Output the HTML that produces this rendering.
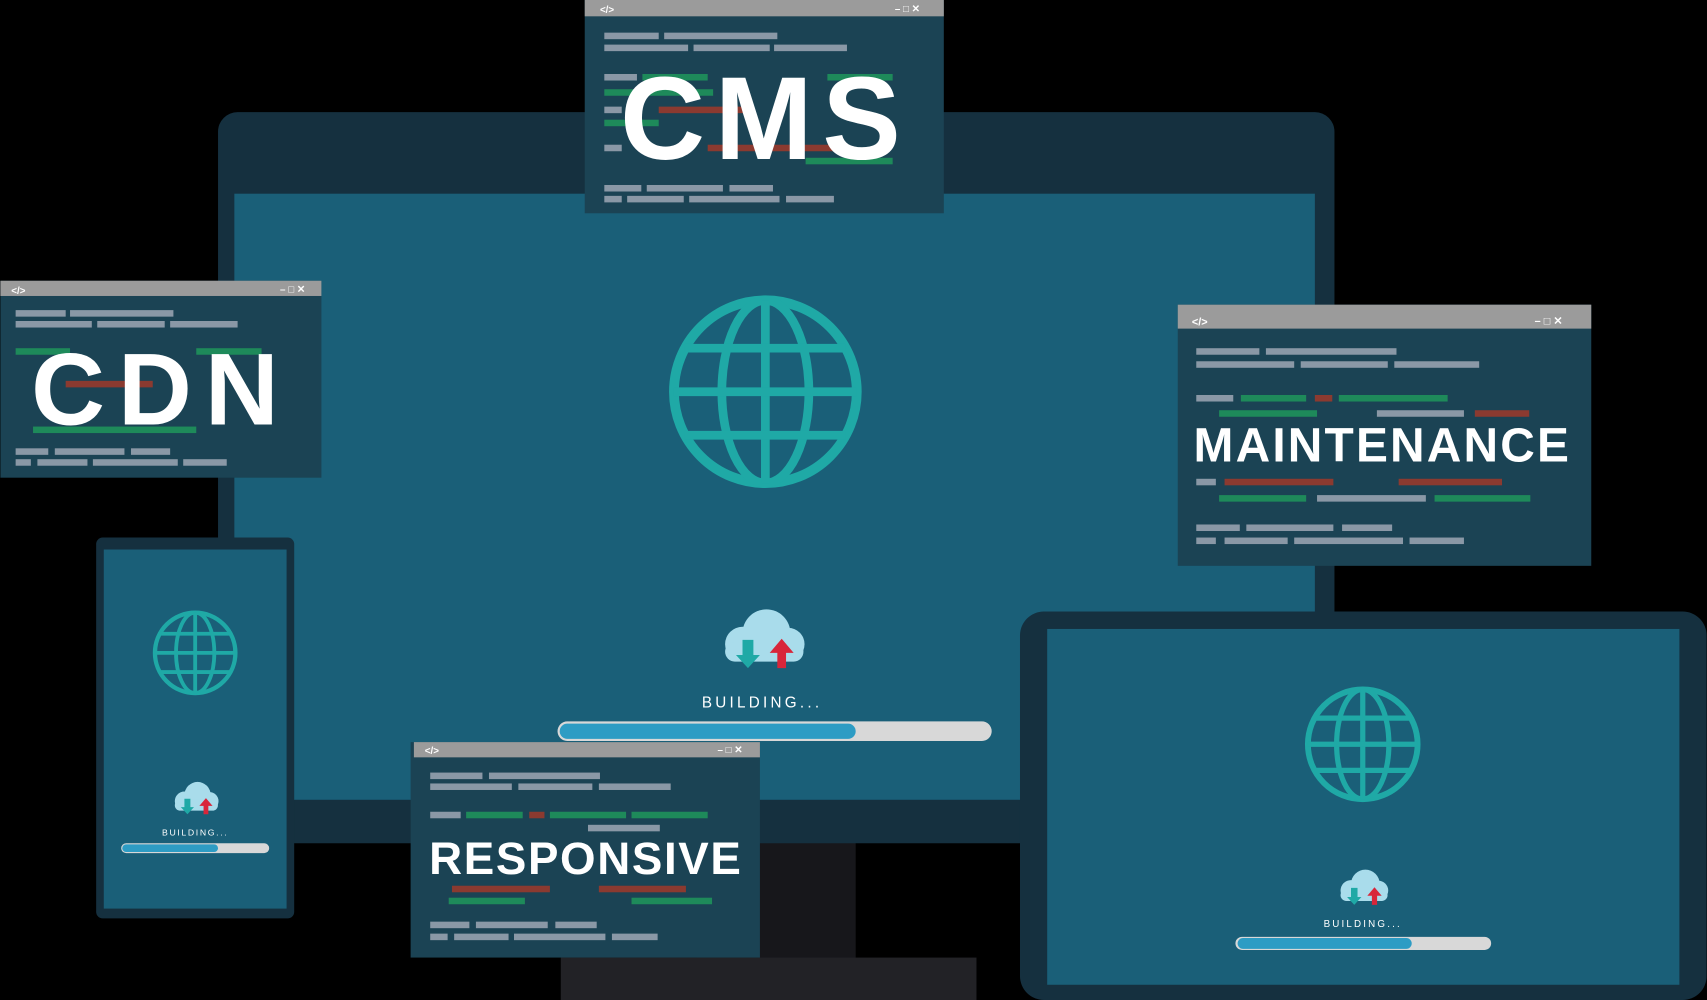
<!DOCTYPE html>
<html><head><meta charset="utf-8"><style>
html,body{margin:0;padding:0;background:#000;}
svg{display:block}
text{font-family:"Liberation Sans",sans-serif;font-weight:bold;fill:#fff}
</style></head><body>
<svg width="1707" height="1000" viewBox="0 0 1568 919" xmlns="http://www.w3.org/2000/svg">
<defs>
<g id="globe" fill="none" stroke="#1fa9a6">
<circle cx="0" cy="0" r="84" stroke-width="9"/>
<ellipse cx="0" cy="0" rx="40" ry="84" stroke-width="8"/>
<line x1="0" y1="-84" x2="0" y2="84" stroke-width="8"/>
<line x1="-84" y1="0" x2="84" y2="0" stroke-width="8"/>
<path d="M-74,-40 H74 M-74,40 H74" stroke-width="8"/>
</g>
<g id="cloud">
<circle cx="-18" cy="4" r="16" fill="#a9dceb"/>
<circle cx="4" cy="-6" r="22" fill="#a9dceb"/>
<circle cx="24" cy="4" r="15" fill="#a9dceb"/>
<rect x="-34" y="2" width="72" height="18" rx="9" fill="#a9dceb"/>
<path d="M-18,0 h10 v14 h6 l-11,12 l-11,-12 h6z" fill="#1fa9a6"/>
<path d="M14,26 v-14 h-7 l11,-13 l11,13 h-7 v14z" fill="#d8263a"/>
</g>
</defs>
<rect width="1568" height="919" fill="#000"/>
<!-- monitor -->
<rect x="640" y="760" width="146" height="125" fill="#17171b"/>
<rect x="515" y="880" width="382" height="39" fill="#222226"/>
<rect x="200" y="103" width="1026" height="672" rx="18" fill="#15303f"/>
<rect x="215" y="178" width="993" height="557" fill="#1a5f78"/>
<use href="#globe" x="703" y="360"/>
<use href="#cloud" x="700" y="588"/>
<text x="700" y="650" text-anchor="middle" font-size="14" style="font-weight:normal;letter-spacing:3px" fill="#d8e6ec">BUILDING...</text>
<rect x="512" y="663" width="399" height="18" rx="9" fill="#d8d8d8"/>
<rect x="514" y="665" width="272" height="14" rx="7" fill="#2d9cc4"/>

<!-- phone -->
<rect x="88" y="494" width="182" height="350" rx="6" fill="#15303f"/>
<rect x="95" y="505" width="168" height="330" fill="#1a5f78"/>
<use href="#globe" transform="translate(179,600) scale(0.44)"/>
<use href="#cloud" transform="translate(179,734) scale(0.55)"/>
<text x="179" y="768" text-anchor="middle" font-size="8" style="font-weight:normal;letter-spacing:1.5px" fill="#d8e6ec">BUILDING...</text>
<rect x="111" y="775" width="136" height="9" rx="4.5" fill="#d8d8d8"/>
<rect x="112" y="776" width="88" height="7" rx="3.5" fill="#2d9cc4"/>

<!-- tablet -->
<rect x="937" y="562" width="631" height="357" rx="22" fill="#15303f"/>
<rect x="962" y="578" width="581" height="327" fill="#1a5f78"/>
<use href="#globe" transform="translate(1252,684) scale(0.6)"/>
<use href="#cloud" transform="translate(1252,816) scale(0.6)"/>
<text x="1252" y="852" text-anchor="middle" font-size="9" style="font-weight:normal;letter-spacing:2px" fill="#d8e6ec">BUILDING...</text>
<rect x="1135" y="861" width="235" height="12" rx="6" fill="#d8d8d8"/>
<rect x="1137" y="862" width="160" height="10" rx="5" fill="#2d9cc4"/>

<!-- CMS window -->
<g>
<rect x="537" y="0" width="330" height="196" fill="#1b4354"/>
<rect x="537" y="0" width="330" height="15" fill="#9b9b9b"/>
<text x="551" y="12" font-size="9" fill="#eee">&lt;/&gt;</text>
<text x="822" y="11" font-size="9" fill="#eee">–  □  ✕</text>
<g fill="#8a98a6">
<rect x="555" y="30" width="50" height="6"/><rect x="610" y="30" width="104" height="6"/>
<rect x="555" y="41" width="77" height="6"/><rect x="637" y="41" width="70" height="6"/><rect x="711" y="41" width="67" height="6"/>
<rect x="555" y="170" width="34" height="6"/><rect x="594" y="170" width="70" height="6"/><rect x="670" y="170" width="40" height="6"/>
<rect x="555" y="180" width="16" height="6"/><rect x="576" y="180" width="52" height="6"/><rect x="633" y="180" width="83" height="6"/><rect x="722" y="180" width="44" height="6"/>
<rect x="555" y="68" width="30" height="6"/><rect x="555" y="98" width="16" height="6"/><rect x="555" y="133" width="16" height="6"/>
</g>
<g fill="#1e8a5a"><rect x="590" y="68" width="60" height="6"/><rect x="760" y="68" width="60" height="6"/><rect x="555" y="82" width="100" height="6"/><rect x="555" y="110" width="50" height="6"/><rect x="740" y="145" width="80" height="6"/></g>
<g fill="#8b3a30"><rect x="605" y="98" width="80" height="6"/><rect x="650" y="133" width="120" height="6"/></g>
<text x="703" y="146" text-anchor="middle" font-size="108" style="letter-spacing:9px">CMS</text>
</g>

<!-- CDN window -->
<g>
<rect x="0" y="258" width="295" height="181" fill="#1b4354"/>
<rect x="0" y="258" width="295" height="14" fill="#9b9b9b"/>
<text x="10" y="270" font-size="9" fill="#eee">&lt;/&gt;</text>
<text x="257" y="269" font-size="9" fill="#eee">–  □  ✕</text>
<g fill="#8a98a6">
<rect x="14" y="285" width="46" height="6"/><rect x="64" y="285" width="95" height="6"/>
<rect x="14" y="295" width="70" height="6"/><rect x="89" y="295" width="62" height="6"/><rect x="156" y="295" width="62" height="6"/>
<rect x="14" y="412" width="30" height="6"/><rect x="50" y="412" width="64" height="6"/><rect x="120" y="412" width="36" height="6"/>
<rect x="14" y="422" width="14" height="6"/><rect x="34" y="422" width="46" height="6"/><rect x="85" y="422" width="78" height="6"/><rect x="168" y="422" width="40" height="6"/>
</g>
<g fill="#1e8a5a"><rect x="14" y="320" width="50" height="6"/><rect x="180" y="320" width="60" height="6"/><rect x="30" y="392" width="150" height="6"/></g>
<g fill="#8b3a30"><rect x="60" y="350" width="80" height="6"/></g>
<text x="148" y="390" text-anchor="middle" font-size="94" style="letter-spacing:12px">CDN</text>
</g>

<!-- Maintenance window -->
<g>
<rect x="1082" y="280" width="380" height="240" fill="#1b4354"/>
<rect x="1082" y="280" width="380" height="22" fill="#9b9b9b"/>
<text x="1095" y="299" font-size="10" fill="#eee">&lt;/&gt;</text>
<text x="1410" y="298" font-size="10" fill="#eee">–  □  ✕</text>
<g fill="#8a98a6">
<rect x="1099" y="320" width="58" height="6"/><rect x="1163" y="320" width="120" height="6"/>
<rect x="1099" y="332" width="90" height="6"/><rect x="1195" y="332" width="80" height="6"/><rect x="1281" y="332" width="78" height="6"/>
<rect x="1099" y="363" width="34" height="6"/><rect x="1265" y="377" width="80" height="6"/>
<rect x="1099" y="440" width="18" height="6"/><rect x="1210" y="455" width="100" height="6"/>
<rect x="1099" y="482" width="40" height="6"/><rect x="1145" y="482" width="80" height="6"/><rect x="1233" y="482" width="46" height="6"/>
<rect x="1099" y="494" width="18" height="6"/><rect x="1125" y="494" width="58" height="6"/><rect x="1189" y="494" width="100" height="6"/><rect x="1295" y="494" width="50" height="6"/>
</g>
<g fill="#1e8a5a"><rect x="1140" y="363" width="60" height="6"/><rect x="1230" y="363" width="100" height="6"/><rect x="1120" y="377" width="90" height="6"/><rect x="1120" y="455" width="80" height="6"/><rect x="1318" y="455" width="88" height="6"/></g>
<g fill="#8b3a30"><rect x="1208" y="363" width="16" height="6"/><rect x="1355" y="377" width="50" height="6"/><rect x="1125" y="440" width="100" height="6"/><rect x="1285" y="440" width="95" height="6"/></g>
<text x="1270" y="424" text-anchor="middle" font-size="44" style="letter-spacing:2px">MAINTENANCE</text>
</g>

<!-- Responsive window -->
<g>
<rect x="377" y="682" width="321" height="198" fill="#1b4354"/>
<rect x="380" y="682" width="318" height="14" fill="#9b9b9b"/>
<text x="390" y="693" font-size="9" fill="#eee">&lt;/&gt;</text>
<text x="659" y="692" font-size="9" fill="#eee">–  □  ✕</text>
<g fill="#8a98a6">
<rect x="395" y="710" width="48" height="6"/><rect x="449" y="710" width="102" height="6"/>
<rect x="395" y="720" width="75" height="6"/><rect x="476" y="720" width="68" height="6"/><rect x="550" y="720" width="66" height="6"/>
<rect x="395" y="746" width="28" height="6"/><rect x="540" y="758" width="66" height="6"/>
<rect x="395" y="847" width="36" height="6"/><rect x="437" y="847" width="66" height="6"/><rect x="510" y="847" width="38" height="6"/>
<rect x="395" y="858" width="16" height="6"/><rect x="417" y="858" width="50" height="6"/><rect x="472" y="858" width="84" height="6"/><rect x="562" y="858" width="42" height="6"/>
</g>
<g fill="#1e8a5a"><rect x="428" y="746" width="52" height="6"/><rect x="505" y="746" width="70" height="6"/><rect x="580" y="746" width="70" height="6"/><rect x="412" y="825" width="70" height="6"/><rect x="580" y="825" width="74" height="6"/></g>
<g fill="#8b3a30"><rect x="486" y="746" width="14" height="6"/><rect x="415" y="814" width="90" height="6"/><rect x="550" y="814" width="80" height="6"/></g>
<text x="538" y="803" text-anchor="middle" font-size="42" style="letter-spacing:1.5px">RESPONSIVE</text>
</g>
</svg>
</body></html>
